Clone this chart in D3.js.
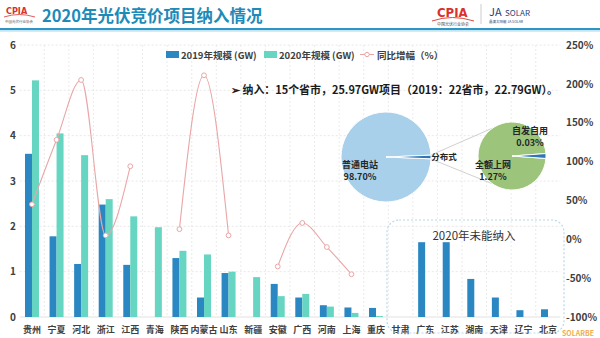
<!DOCTYPE html>
<html><head><meta charset="utf-8">
<script src="https://cdn.jsdelivr.net/npm/d3@7"></script>
<style>
html,body{margin:0;padding:0;background:#fff;}
svg{display:block;font-family:"Noto Sans CJK SC","Noto Sans",sans-serif;}
</style></head>
<body><svg id="c" width="600" height="338"></svg>
<script>
const categories = ["贵州","宁夏","河北","浙江","江西","青海","陕西","内蒙古","山东","新疆","安徽","广西","河南","上海","重庆","甘肃","广东","江苏","湖南","天津","辽宁","北京"];
const scale2019 = [3.6,1.78,1.17,2.48,1.15,0,1.3,0.43,0.97,0,0.73,0.43,0.26,0.21,0.2,0,1.65,1.65,0.84,0.43,0.15,0.17];
const scale2020 = [5.22,4.05,3.57,2.6,2.22,1.98,1.46,1.38,1.0,0.88,0.46,0.51,0.23,0.09,0.02,0,0,0,0,0,0,0];
const growth = [45,128,205,5,94,null,13,211,5,null,-35,21,-10,-45,null,null,null,null,null,null,null,null];
const leftTicks = [0,1,2,3,4,5,6];
const rightTicks = [-100,-50,0,50,100,150,200,250];
const seriesNames = ["2019年规模 (GW)","2020年规模 (GW)","同比增幅（%）"];
const pieMain = [{name:"普通电站",value:98.70},{name:"分布式",value:1.30}];
const pieSub = [{name:"全额上网",value:1.27},{name:"自发自用",value:0.03}];
const titleText = "2020年光伏竞价项目纳入情况";
const noteText = "➢  纳入：15个省市，25.97GW项目（2019：22省市，22.79GW）。";
const boxText = "2020年未能纳入";

const C19 = "#2a87c2", C20 = "#66d6c2", CL = "#eaa6a6";
const FF = "'Noto Sans CJK SC','Noto Sans',sans-serif";
const svg = d3.select("#c");

// Header
svg.append("text").attr("x",42).attr("y",22).attr("font-size",16.5).attr("font-weight",700)
  .attr("fill","#1d8ab8").text(titleText);
svg.append("rect").attr("x",0).attr("y",28).attr("width",600).attr("height",2.2).attr("fill","#2f95c4");
svg.append("rect").attr("x",0).attr("y",30.2).attr("width",600).attr("height",1.5).attr("fill","#bfe4f2");
// left logo
svg.append("text").attr("x",6).attr("y",14).attr("font-size",9).attr("font-weight",700).attr("fill","#d8322a")
  .attr("font-family","DejaVu Sans Condensed").text("CPIA");
svg.append("path").attr("d","M4,17 Q19,12 35,17").attr("stroke","#d8322a").attr("fill","none").attr("stroke-width",0.8);
svg.append("text").attr("x",19).attr("y",23).attr("font-size",3.5).attr("text-anchor","middle").attr("fill","#555").text("中国光伏行业协会");
// right logos
svg.append("text").attr("x",437).attr("y",17).attr("font-size",13).attr("font-weight",700).attr("fill","#d8322a")
  .attr("font-family","DejaVu Sans Condensed").text("CPIA");
svg.append("path").attr("d","M432,21 Q452,14 474,21").attr("stroke","#d8322a").attr("fill","none").attr("stroke-width",0.9);
svg.append("text").attr("x",453).attr("y",26).attr("font-size",4).attr("text-anchor","middle").attr("fill","#444").text("中国光伏行业协会");
svg.append("line").attr("x1",481).attr("x2",481).attr("y1",4).attr("y2",24).attr("stroke","#ccc");
svg.append("text").attr("x",489).attr("y",16).attr("font-size",11).attr("fill","#1b3f7a").text("JA");
svg.append("text").attr("x",505).attr("y",16).attr("font-size",8).attr("fill","#1b3f7a").text("SOLAR");
svg.append("text").attr("x",489).attr("y",23).attr("font-size",3.5).attr("fill","#1b3f7a").text("晶澳太阳能 JA SOLAR");

// Scales
const yTop = 45, yBot = 317;
const x = d3.scaleBand().domain(categories).range([19.7,560.3]).padding(0);
const yL = d3.scaleLinear().domain([0,6]).range([yBot,yTop]);
const yR = d3.scaleLinear().domain([-100,250]).range([yBot,yTop]);
const bw = 7;

// Grid
const grid = svg.append("g");
grid.selectAll("line.h").data(leftTicks.slice(1)).join("line")
  .attr("x1",19.7).attr("x2",560.3).attr("y1",d=>yL(d)).attr("y2",d=>yL(d))
  .attr("stroke","#e2e2e2").attr("stroke-width",0.8).attr("stroke-dasharray","2,2");
grid.selectAll("line.v").data(categories.slice(1)).join("line")
  .attr("x1",d=>x(d)).attr("x2",d=>x(d)).attr("y1",yTop).attr("y2",yBot)
  .attr("stroke","#e6e6e6").attr("stroke-width",0.8).attr("stroke-dasharray","2,2");
grid.append("line").attr("x1",19.7).attr("x2",560.3).attr("y1",yBot).attr("y2",yBot)
  .attr("stroke","#d9d9d9").attr("stroke-width",0.8);

// Axes (left, right, bottom)
const axL = svg.append("g").attr("transform","translate(17,0)")
  .call(d3.axisLeft(yL).tickValues(leftTicks).tickSize(0).tickPadding(0).tickFormat(d3.format("d")));
axL.select(".domain").remove();
axL.selectAll("text").attr("font-size",10).attr("font-weight",700).attr("fill","#404040")
  .attr("font-family",FF).attr("dx",-1);
const axR = svg.append("g").attr("transform","translate(566,0)")
  .call(d3.axisRight(yR).tickValues(rightTicks).tickSize(0).tickPadding(0).tickFormat(d=>d+"%"));
axR.select(".domain").remove();
axR.selectAll("text").attr("font-size",10).attr("font-weight",700).attr("fill","#404040")
  .attr("font-family",FF);
const axB = svg.append("g").attr("transform",`translate(0,${yBot})`)
  .call(d3.axisBottom(x).tickSize(0).tickPadding(10));
axB.select(".domain").remove();
axB.selectAll("text").attr("font-size",9).attr("font-weight",700).attr("fill","#404040")
  .attr("font-family",FF);

// Bars
svg.append("g").selectAll("rect").data(categories).join("rect")
  .attr("x",(d)=>x(d)+x.bandwidth()/2-bw).attr("width",bw)
  .attr("y",(d,i)=>yL(scale2019[i])).attr("height",(d,i)=>yBot-yL(scale2019[i])).attr("fill",C19);
svg.append("g").selectAll("rect").data(categories).join("rect")
  .attr("x",(d)=>x(d)+x.bandwidth()/2).attr("width",bw)
  .attr("y",(d,i)=>yL(scale2020[i])).attr("height",(d,i)=>yBot-yL(scale2020[i])).attr("fill",C20);

// Growth line
const lineData = categories.map((c,i)=>({c, v:growth[i]}));
const line = d3.line().defined(d=>d.v!=null).x(d=>x(d.c)+x.bandwidth()/2).y(d=>yR(d.v)).curve(d3.curveMonotoneX);
svg.append("path").datum(lineData).attr("d",line).attr("fill","none").attr("stroke",CL).attr("stroke-width",1.1);
svg.append("g").selectAll("circle").data(lineData.filter(d=>d.v!=null)).join("circle")
  .attr("cx",d=>x(d.c)+x.bandwidth()/2).attr("cy",d=>yR(d.v)).attr("r",2.4)
  .attr("fill","#fff").attr("stroke",CL).attr("stroke-width",1);

// Legend
const lg = svg.append("g").attr("font-size",9.5).attr("font-weight",700).attr("fill","#404040");
lg.append("rect").attr("x",166).attr("y",51).attr("width",13).attr("height",7).attr("fill",C19);
lg.append("text").attr("x",181).attr("y",58.5).text(seriesNames[0]);
lg.append("rect").attr("x",264).attr("y",51).attr("width",13).attr("height",7).attr("fill",C20);
lg.append("text").attr("x",279).attr("y",58.5).text(seriesNames[1]);
lg.append("line").attr("x1",360).attr("x2",374).attr("y1",54.5).attr("y2",54.5).attr("stroke",CL).attr("stroke-width",1);
lg.append("circle").attr("cx",367).attr("cy",54.5).attr("r",2.2).attr("fill","#fff").attr("stroke",CL);
lg.append("text").attr("x",377).attr("y",58.5).text(seriesNames[2]);

// Note
svg.append("text").attr("x",231).attr("y",94).attr("font-size",11).attr("font-weight",700).attr("fill","#1a1a1a")
  .attr("textLength",327).attr("lengthAdjust","spacingAndGlyphs").text(noteText);

// Pies
function drawPie(data, cx, cy, r, colors){
  const smallAng = data[1].value/(data[0].value+data[1].value)*2*Math.PI;
  const s = Math.PI/2 + smallAng/2;
  const arcs = d3.pie().sort(null).value(d=>d.value).startAngle(s).endAngle(s+2*Math.PI)(data);
  const g = svg.append("g").attr("transform",`translate(${cx},${cy})`);
  g.selectAll("path").data(arcs).join("path").attr("d",d3.arc().innerRadius(0).outerRadius(r))
    .attr("fill",(d,i)=>colors[i]).attr("stroke","#fff").attr("stroke-width",1);
  return g;
}
const p1 = {cx:386,cy:157,r:45}, p2 = {cx:512,cy:156,r:34};
[-125,125].forEach((deg,k)=>{
  const rad = deg*Math.PI/180;
  svg.append("line").attr("x1",p1.cx+p1.r).attr("y1",p1.cy+(k?2:-2))
    .attr("x2",p2.cx+p2.r*Math.cos(rad)).attr("y2",p2.cy+p2.r*Math.sin(rad))
    .attr("stroke","#d0d0d0").attr("stroke-width",1);
});
drawPie(pieMain,p1.cx,p1.cy,p1.r,["#a8d0ea","#2e76b8"]);
drawPie(pieSub,p2.cx,p2.cy,p2.r,["#9dc47b","#2e76b8"]);
const pl = svg.append("g").attr("font-size",9).attr("font-weight",700).attr("fill","#262626").attr("text-anchor","middle");
pl.append("text").attr("x",360).attr("y",168).text(pieMain[0].name);
pl.append("text").attr("x",360).attr("y",180).text(pieMain[0].value.toFixed(2)+"%");
pl.append("text").attr("x",444).attr("y",160).attr("font-size",8.5).text(pieMain[1].name);
pl.append("text").attr("x",530).attr("y",134).text(pieSub[1].name);
pl.append("text").attr("x",530).attr("y",146).text(pieSub[1].value.toFixed(2)+"%");
pl.append("text").attr("x",493).attr("y",168).text(pieSub[0].name);
pl.append("text").attr("x",493).attr("y",180).text(pieSub[0].value.toFixed(2)+"%");

// Box for not included
svg.append("rect").attr("x",387).attr("y",220).attr("width",177).attr("height",113).attr("rx",12)
  .attr("fill","none").attr("stroke","#b9d8ea").attr("stroke-width",1.2).attr("stroke-dasharray","2,2");
svg.append("text").attr("x",474).attr("y",240).attr("text-anchor","middle").attr("font-size",11.5)
  .attr("font-family",FF).attr("font-weight",400).attr("fill","#333").text(boxText);

// watermark
svg.append("text").attr("x",562).attr("y",336).attr("font-size",7).attr("font-weight",700)
  .attr("font-family",FF).attr("fill","#f0a030").attr("opacity",0.85).text("SOLARBE");
</script></body></html>
